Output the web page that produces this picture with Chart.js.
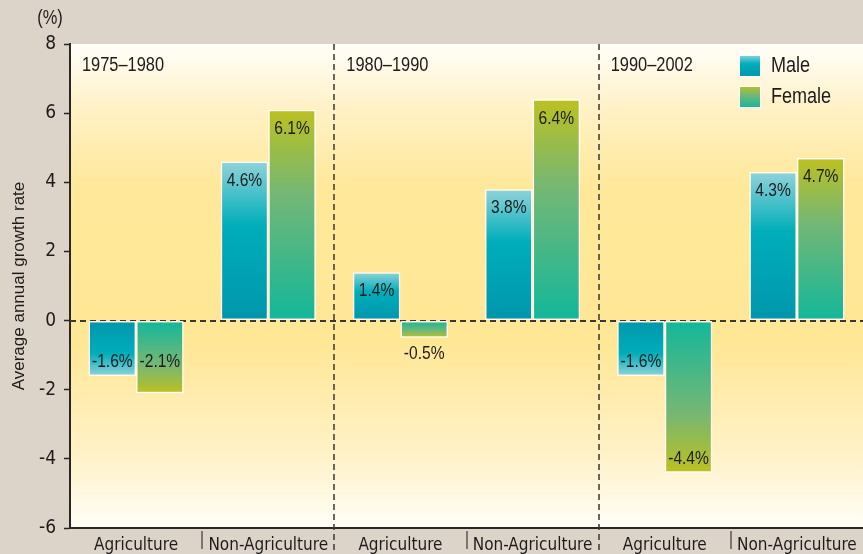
<!DOCTYPE html>
<html>
<head>
<meta charset="utf-8">
<script src="https://cdn.jsdelivr.net/npm/chart.js@4.4.1/dist/chart.umd.min.js"></script>
<style>
html, body { margin: 0; padding: 0; background: #dcd4c8; }
#wrap { width: 863px; height: 554px; position: relative; }
</style>
</head>
<body>
<div id="wrap"><canvas id="myChart"></canvas></div>
<script>
var categories = ["Agriculture", "Non-Agriculture", "Agriculture", "Non-Agriculture", "Agriculture", "Non-Agriculture"];
var periods = ["1975–1980", "1980–1990", "1990–2002"];
var male = [-1.6, 4.6, 1.4, 3.8, -1.6, 4.3];
var female = [-2.1, 6.1, -0.5, 6.4, -4.4, 4.7];
var yMin = -6, yMax = 8, yStep = 2;

var COND = '"DejaVu Sans Condensed", "DejaVu Sans", sans-serif';
var SANS = '"Liberation Sans", Arial, sans-serif';
var INK = '#1f1b1c';
var maleStops = ['#0096ac', '#00aeba', '#90d3da'];
var femaleStops = ['#12b79b', '#74b775', '#bcc120'];

// gradient runs from the zero line out to the bar end
function barFill(stops) {
    return function (c) {
        var chart = c.chart;
        if (!chart.chartArea || c.type !== 'data') return stops[1];
        var ys = chart.scales.y;
        var y0 = ys.getPixelForValue(0), y1 = ys.getPixelForValue(c.raw);
        if (Math.abs(y1 - y0) < 1) return stops[0];
        var g = chart.ctx.createLinearGradient(0, y0, 0, y1);
        g.addColorStop(0, stops[0]);
        g.addColorStop(0.6, stops[1]);
        g.addColorStop(1, stops[2]);
        return g;
    };
}

// squeezed Liberation Sans, close to the narrow face of the original
function narrowText(ctx, text, x, y, size, align) {
    ctx.save();
    ctx.translate(x, y);
    ctx.scale(0.82, 1);
    ctx.font = size + 'px ' + SANS;
    ctx.textAlign = align || 'left';
    ctx.textBaseline = 'middle';
    ctx.fillText(text, 0, 0);
    ctx.restore();
}

var decor = {
    id: 'decor',
    beforeDraw: function (chart) {
        var ctx = chart.ctx, a = chart.chartArea;
        var g = ctx.createLinearGradient(0, a.top, 0, a.bottom);
        g.addColorStop(0, '#fffef9');
        g.addColorStop(0.14, '#fff1c4');
        g.addColorStop(0.3, '#ffe899');
        g.addColorStop(0.62, '#ffe796');
        g.addColorStop(0.85, '#fff2c8');
        g.addColorStop(1, '#fffdf7');
        ctx.save();
        ctx.fillStyle = g;
        ctx.fillRect(a.left, a.top, a.right - a.left, a.bottom - a.top);
        ctx.restore();
    },
    beforeDatasetsDraw: function (chart) {
        var ctx = chart.ctx, a = chart.chartArea;
        var xs = chart.scales.x, ys = chart.scales.y;
        ctx.save();
        ctx.strokeStyle = '#3a3633';
        ctx.lineWidth = 2;
        ctx.setLineDash([6, 4]);
        var y0 = Math.round(ys.getPixelForValue(0));
        ctx.beginPath();
        ctx.moveTo(a.left, y0);
        ctx.lineTo(a.right, y0);
        ctx.stroke();
        ctx.lineWidth = 1.5;
        [2, 4].forEach(function (i) {
            var x = Math.round((xs.getPixelForValue(i - 1) + xs.getPixelForValue(i)) / 2);
            ctx.beginPath();
            ctx.moveTo(x, a.top);
            ctx.lineTo(x, chart.height);
            ctx.stroke();
        });
        ctx.setLineDash([]);
        ctx.lineWidth = 1.2;
        [1, 3, 5].forEach(function (i) {
            var x = Math.round((xs.getPixelForValue(i - 1) + xs.getPixelForValue(i)) / 2);
            ctx.beginPath();
            ctx.moveTo(x, a.bottom + 3);
            ctx.lineTo(x, a.bottom + 21);
            ctx.stroke();
        });
        ctx.restore();
    },
    afterDatasetsDraw: function (chart) {
        var ctx = chart.ctx;
        ctx.save();
        ctx.fillStyle = INK;
        chart.data.datasets.forEach(function (ds, i) {
            chart.getDatasetMeta(i).data.forEach(function (bar, j) {
                var v = ds.data[j];
                var h = Math.abs(bar.base - bar.y);
                var y;
                if (v >= 0) y = bar.y + 19;
                else if (h < 25) y = bar.y + 16;
                else if (v < -3) y = bar.y - 14;
                else y = Math.min(bar.y - 14, bar.base + 41);
                narrowText(ctx, v.toFixed(1) + '%', bar.x, y, 19, 'center');
            });
        });
        ctx.restore();
    },
    afterDraw: function (chart) {
        var ctx = chart.ctx, a = chart.chartArea, xs = chart.scales.x;
        ctx.save();
        ctx.fillStyle = INK;
        periods.forEach(function (p, k) {
            var left = k === 0 ? a.left : (xs.getPixelForValue(2 * k - 1) + xs.getPixelForValue(2 * k)) / 2;
            narrowText(ctx, p, left + 12, a.top + 21, 20, 'left');
        });
        narrowText(ctx, '(%)', 50, 18, 20, 'center');
        // legend
        var items = [['Male', maleStops], ['Female', femaleStops]];
        items.forEach(function (it, k) {
            var sx = 739, sy = 55 + k * 31, s = 22;
            var g = ctx.createLinearGradient(0, sy + s, 0, sy);
            g.addColorStop(0, it[1][0]);
            g.addColorStop(0.6, it[1][1]);
            g.addColorStop(1, it[1][2]);
            ctx.fillStyle = g;
            ctx.fillRect(sx, sy, s, s);
            ctx.strokeStyle = '#ffffff';
            ctx.lineWidth = 1;
            ctx.strokeRect(sx + 0.5, sy + 0.5, s - 1, s - 1);
            ctx.fillStyle = INK;
            narrowText(ctx, it[0], 771, sy + s / 2, 22, 'left');
        });
        ctx.restore();
    }
};

var ctx = document.getElementById('myChart').getContext('2d');

var myChart = new Chart(ctx, {
    type: 'bar',
    data: {
        labels: categories,
        datasets: [{
            label: 'Male',
            data: male,
            backgroundColor: barFill(maleStops),
            borderColor: 'rgba(255,255,255,0.95)',
            borderWidth: 1.5,
            borderSkipped: false
        }, {
            label: 'Female',
            data: female,
            backgroundColor: barFill(femaleStops),
            borderColor: 'rgba(255,255,255,0.95)',
            borderWidth: 1.5,
            borderSkipped: false
        }]
    },
    options: {
        responsive: true,
        maintainAspectRatio: false,
        animation: false,
        layout: { padding: { top: 44, right: 0, bottom: 0, left: 0 } },
        plugins: {
            legend: { display: false },
            tooltip: { enabled: false }
        },
        datasets: {
            bar: { categoryPercentage: 0.72, barPercentage: 1.0 }
        },
        scales: {
            x: {
                afterFit: function (s) { s.height = 26; s.paddingLeft = 0; s.paddingRight = 0; },
                grid: { drawOnChartArea: false, drawTicks: false },
                border: { display: true, color: '#2a2624', width: 2 },
                ticks: {
                    padding: 7,
                    color: INK,
                    font: { family: COND, size: 17 },
                    maxRotation: 0,
                    autoSkip: false
                }
            },
            y: {
                min: yMin,
                max: yMax,
                afterFit: function (s) { s.width = 70; s.paddingTop = 0; s.paddingBottom = 0; },
                grid: { drawOnChartArea: false, drawTicks: true, tickLength: 6, color: '#2a2624', tickWidth: 1.5 },
                border: { display: true, color: '#2a2624', width: 2 },
                ticks: {
                    stepSize: yStep,
                    padding: 8,
                    color: INK,
                    font: { family: COND, size: 19 }
                },
                title: {
                    display: true,
                    text: 'Average annual growth rate',
                    color: INK,
                    font: { family: SANS, size: 17 },
                    padding: { top: 9, bottom: 0 }
                }
            }
        }
    },
    plugins: [decor]
});
</script>
</body>
</html>
